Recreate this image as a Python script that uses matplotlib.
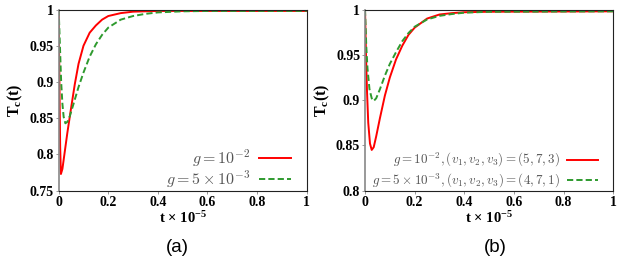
import numpy as np
import matplotlib
matplotlib.use("Agg")
import matplotlib.pyplot as plt

# panel (a): g = 1e-2 and g = 5e-3
t_a_red = [0.0, 0.003, 0.006, 0.009, 0.015, 0.025, 0.035, 0.05, 0.065, 0.08,
           0.10, 0.125, 0.15, 0.175, 0.20, 0.25, 0.30, 0.40, 0.50, 1.0]
tc_a_red = [1.0, 0.90, 0.81, 0.773, 0.78, 0.805, 0.83, 0.864, 0.897, 0.925,
            0.950, 0.968, 0.978, 0.986, 0.991, 0.995, 0.997, 0.998, 0.998, 0.998]

t_a_green = [0.0, 0.005, 0.01, 0.015, 0.02, 0.027, 0.035, 0.045, 0.06, 0.08,
             0.10, 0.125, 0.15, 0.175, 0.20, 0.25, 0.30, 0.35, 0.40, 0.50, 0.60, 1.0]
tc_a_green = [1.0, 0.95, 0.90, 0.87, 0.852, 0.843, 0.845, 0.853, 0.870, 0.893,
              0.913, 0.935, 0.952, 0.965, 0.975, 0.986, 0.991, 0.994, 0.996, 0.9975, 0.998, 0.998]

# panel (b): different (v1, v2, v3)
t_b_red = [0.0, 0.004, 0.008, 0.013, 0.02, 0.027, 0.035, 0.045, 0.06, 0.08,
           0.10, 0.125, 0.15, 0.175, 0.20, 0.25, 0.30, 0.35, 0.40, 0.50, 1.0]
tc_b_red = [1.0, 0.95, 0.91, 0.875, 0.852, 0.845, 0.848, 0.86, 0.88, 0.905,
            0.925, 0.945, 0.96, 0.972, 0.98, 0.99, 0.9945, 0.996, 0.997, 0.9975, 0.998]

t_b_green = [0.0, 0.005, 0.01, 0.018, 0.027, 0.035, 0.045, 0.06, 0.08,
             0.10, 0.125, 0.15, 0.175, 0.20, 0.25, 0.30, 0.35, 0.40, 0.50, 1.0]
tc_b_green = [1.0, 0.96, 0.935, 0.912, 0.902, 0.899, 0.902, 0.912, 0.927,
              0.94, 0.953, 0.965, 0.974, 0.981, 0.989, 0.993, 0.995, 0.9965, 0.9975, 0.998]

x_ticks = [0, 0.2, 0.4, 0.6, 0.8, 1]
x_labels = ["0", "0.2", "0.4", "0.6", "0.8", "1"]
y_ticks_a = [0.75, 0.8, 0.85, 0.9, 0.95, 1]
y_labels_a = ["0.75", "0.8", "0.85", "0.9", "0.95", "1"]
y_ticks_b = [0.8, 0.85, 0.9, 0.95, 1]
y_labels_b = ["0.8", "0.85", "0.9", "0.95", "1"]

labels_a = [r"$g=10^{-2}$", r"$g=5\times10^{-3}$"]
labels_b = [r"$g=10^{-2},(v_1,v_2,v_3)=(5,7,3)$",
            r"$g=5\times10^{-3},(v_1,v_2,v_3)=(4,7,1)$"]

plt.rcParams["mathtext.fontset"] = "custom"
plt.rcParams["mathtext.rm"] = "Liberation Serif"
plt.rcParams["mathtext.it"] = "Liberation Serif:italic"
plt.rcParams["mathtext.bf"] = "Liberation Serif:bold"

RED = "#ff0000"
GREEN = "#2e9a2e"

fig = plt.figure(figsize=(6.23, 2.59), dpi=100)
ax_a = fig.add_axes([0.0942, 0.2637, 0.398, 0.6996])
ax_b = fig.add_axes([0.5859, 0.2637, 0.3986, 0.6996])


def style_axes(ax, y_ticks, y_labels, ylim):
    ax.set_xlim(0, 1)
    ax.set_ylim(*ylim)
    ax.set_xticks(x_ticks)
    ax.set_xticklabels(x_labels)
    ax.set_yticks(y_ticks)
    ax.set_yticklabels(y_labels)
    for lab in ax.get_xticklabels() + ax.get_yticklabels():
        lab.set_fontfamily("Liberation Serif")
        lab.set_fontweight("bold")
        lab.set_fontsize(10)
    ax.tick_params(length=2, width=0.6, color="#888888", pad=1.5)
    for side in ["top", "right", "bottom"]:
        ax.spines[side].set_color("#222222")
        ax.spines[side].set_linewidth(0.8)
    ax.spines["left"].set_color("#888888")
    ax.spines["left"].set_linewidth(1.2)
    ax.set_xlabel(r"$\mathbf{t\,\times\,10^{-5}}$", fontsize=10.5, labelpad=1)
    ax.set_ylabel(r"$\mathbf{T_c(t)}$", fontsize=11.5, labelpad=3)


def add_legend(ax, labels, size, hlen, anchor, spacing):
    leg = ax.legend(labels, loc="lower right", bbox_to_anchor=anchor,
                    frameon=False, markerfirst=False,
                    fontsize=size, handlelength=hlen, handletextpad=0.55,
                    labelspacing=spacing, borderaxespad=0.0, borderpad=0.0)
    for txt in leg.get_texts():
        txt.set_math_fontfamily("cm")
        txt.set_color("#555555")
    return leg


ax_a.plot(t_a_red, tc_a_red, color=RED, lw=1.4)
ax_a.plot(t_a_green, tc_a_green, color=GREEN, lw=1.4, ls=(0, (3.2, 1.6)))
style_axes(ax_a, y_ticks_a, y_labels_a, (0.75, 1.0))
add_legend(ax_a, labels_a, 11.5, 2.0, (0.937, 0.003), 0.0)

ax_b.plot(t_b_red, tc_b_red, color=RED, lw=1.4)
ax_b.plot(t_b_green, tc_b_green, color=GREEN, lw=1.4, ls=(0, (3.2, 1.6)))
style_axes(ax_b, y_ticks_b, y_labels_b, (0.8, 1.0))
add_legend(ax_b, labels_b, 9.4, 2.4, (0.94, 0.003), 0.2)

fig.text(0.284, 0.027, "(a)", family="Liberation Sans", fontsize=13.5, ha="center")
fig.text(0.795, 0.027, "(b)", family="Liberation Sans", fontsize=13.5, ha="center")

fig.savefig("out.png", dpi=100)
